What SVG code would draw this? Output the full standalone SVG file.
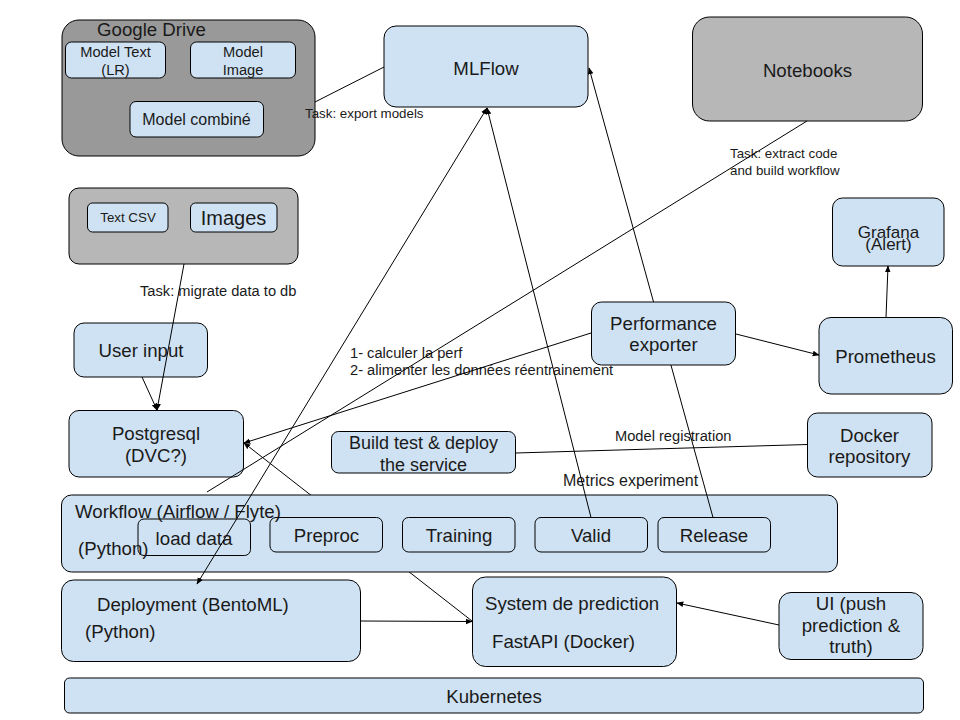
<svg xmlns="http://www.w3.org/2000/svg" width="960" height="720" viewBox="0 0 960 720">
<defs>
<marker id="ah" viewBox="0 0 10 10" refX="9" refY="5" markerWidth="7" markerHeight="7" markerUnits="userSpaceOnUse" orient="auto-start-reverse">
<path d="M0,1 L10,5 L0,9 z" fill="#000"/>
</marker>
<style>
text{font-family:"Liberation Sans",Arial,sans-serif;fill:#1a1a1a}
.b{fill:#cfe2f3;stroke:#000;stroke-width:1}
.g1{fill:#999999;stroke:#000;stroke-width:1}
.g2{fill:#b7b7b7;stroke:#000;stroke-width:1}
.t{font-size:18.67px}
.m{text-anchor:middle}
.s{font-size:13.33px}
.s2{font-size:14.67px}
.c{fill:none;stroke:#000;stroke-width:1}
.a{marker-end:url(#ah)}
</style>
</defs>
<rect width="960" height="720" fill="#fff"/>

<g id="connectors-back">
<line class="c a" x1="472" y1="621" x2="244" y2="443"/>
</g>

<g id="google-drive">
<rect class="g1" x="62" y="20" width="253" height="136" rx="17"/>
<text x="97" y="36" style="font-size:18.67px">Google Drive</text>
<rect class="b" x="65.5" y="42" width="100" height="36" rx="6"/>
<text class="m" x="115.5" y="57" style="font-size:14.67px">Model Text</text>
<text class="m" x="115.5" y="75" style="font-size:14.67px">(LR)</text>
<rect class="b" x="190.5" y="42" width="105" height="36" rx="6"/>
<text class="m" x="243" y="57" style="font-size:14.67px">Model</text>
<text class="m" x="243" y="75" style="font-size:14.67px">Image</text>
<rect class="b" x="130" y="101.5" width="133.5" height="35.5" rx="6"/>
<text class="m" x="196.5" y="125" style="font-size:16px">Model combiné</text>
</g>

<g id="data-sources">
<rect class="g2" x="69" y="188" width="229" height="76" rx="10"/>
<rect class="b" x="87.5" y="203" width="80.5" height="29" rx="5"/>
<text class="m s" x="128" y="222">Text CSV</text>
<rect class="b" x="190.5" y="203" width="86.5" height="29" rx="5"/>
<text class="m" x="233.5" y="225" style="font-size:20px">Images</text>
</g>

<g id="mlflow">
<rect class="b" x="384" y="26" width="204" height="81" rx="12"/>
<text class="m t" x="486" y="75">MLFlow</text>
</g>

<g id="notebooks">
<rect class="g2" x="692.5" y="17" width="230" height="104" rx="17"/>
<text class="m t" x="807.5" y="76.5">Notebooks</text>
</g>

<g id="grafana">
<rect class="b" x="832.5" y="198" width="111.5" height="68" rx="10"/>
<text class="m" x="888.5" y="237.5" style="font-size:17px">Grafana</text>
<text class="m" x="888.5" y="249.5" style="font-size:17px">(Alert)</text>
</g>

<g id="prometheus">
<rect class="b" x="819" y="317.5" width="133.5" height="76.5" rx="12"/>
<text class="m t" x="885.5" y="363">Prometheus</text>
</g>

<g id="user-input">
<rect class="b" x="74" y="323" width="133.5" height="54" rx="10"/>
<text class="m t" x="141" y="357">User input</text>
</g>

<g id="postgresql">
<rect class="b" x="69" y="410.5" width="174.5" height="66.5" rx="10"/>
<text class="m t" x="156" y="440">Postgresql</text>
<text class="m t" x="156" y="462">(DVC?)</text>
</g>

<g id="build-test-deploy">
<rect class="b" x="331.5" y="431.5" width="184" height="41.5" rx="7"/>
<text class="m" x="423.5" y="449" style="font-size:18px">Build test &amp; deploy</text>
<text class="m" x="423.5" y="470.5" style="font-size:18px">the service</text>
</g>

<g id="docker-repository">
<rect class="b" x="807.5" y="413" width="124.5" height="64" rx="10"/>
<text class="m t" x="869.5" y="441.5">Docker</text>
<text class="m t" x="869.5" y="462.5">repository</text>
</g>

<g id="workflow">
<rect class="b" x="61.5" y="495" width="776" height="77" rx="10"/>
<rect class="b" x="138" y="519" width="112.5" height="36.5" rx="6"/>
<text class="m t" x="194" y="545">load data</text>
<rect class="b" x="270" y="517.5" width="112.5" height="34.5" rx="6"/>
<text class="m t" x="326.5" y="542">Preproc</text>
<rect class="b" x="402.5" y="517.5" width="112.5" height="34.5" rx="6"/>
<text class="m t" x="459" y="542">Training</text>
<rect class="b" x="535" y="517.5" width="112.5" height="34.5" rx="6"/>
<text class="m t" x="591" y="542">Valid</text>
<rect class="b" x="658" y="517.5" width="112.5" height="34.5" rx="6"/>
<text class="m t" x="714" y="542">Release</text>
<text class="t" x="75" y="518">Workflow (Airflow / Flyte)</text>
<text class="t" x="78" y="555">(Python)</text>
</g>

<g id="deployment">
<rect class="b" x="61.5" y="580" width="299" height="81.5" rx="12"/>
<text class="t" x="97" y="611">Deployment (BentoML)</text>
<text class="t" x="85" y="638">(Python)</text>
</g>

<g id="system-prediction">
<rect class="b" x="472.5" y="577" width="204" height="89.5" rx="13"/>
<text class="t" x="485" y="610">System de prediction</text>
<text class="t" x="492" y="648">FastAPI (Docker)</text>
</g>

<g id="ui">
<rect class="b" x="779" y="592.5" width="144" height="67" rx="12"/>
<text class="m t" x="851" y="610">UI (push</text>
<text class="m t" x="851" y="631.5">prediction &amp;</text>
<text class="m t" x="851" y="653">truth)</text>
</g>

<g id="kubernetes">
<rect class="b" x="64.5" y="678" width="859" height="35" rx="5"/>
<text class="m t" x="494" y="702.5">Kubernetes</text>
</g>

<g id="labels">
<text class="s" x="305" y="118">Task: export models</text>
<text class="s2" x="140" y="296">Task: migrate data to db</text>
<text class="s" x="730" y="158">Task: extract code</text>
<text class="s" x="730" y="175">and build workflow</text>
<text class="s2" x="350" y="358">1- calculer la perf</text>
<text class="s2" x="350" y="375">2- alimenter les données réentrainement</text>
<text class="s2" x="615" y="441">Model registration</text>
<text x="563" y="486" style="font-size:16px">Metrics experiment</text>
</g>

<g id="connectors">
<line class="c" x1="315" y1="102" x2="384" y2="67"/>
<line class="c" x1="807" y1="121" x2="207" y2="492"/>
<line class="c a" x1="487" y1="108" x2="197" y2="584" style="marker-start:url(#ah)"/>
<line class="c a" x1="591" y1="517.5" x2="487" y2="108"/>
<line class="c a" x1="713" y1="517.5" x2="589" y2="68"/>
<line class="c a" x1="591" y1="333" x2="244" y2="443"/>
<line class="c a" x1="361" y1="621" x2="472" y2="621.5"/>
<line class="c a" x1="184" y1="264" x2="157" y2="410"/>
<line class="c a" x1="142" y1="377" x2="157" y2="410"/>
<line class="c" x1="515.5" y1="453" x2="807.5" y2="444.5"/>
<line class="c a" x1="736" y1="334" x2="819" y2="355"/>
<line class="c a" x1="886" y1="317.5" x2="888" y2="266"/>
<line class="c a" x1="779" y1="625" x2="677" y2="603"/>
</g>

<g id="performance-exporter">
<rect class="b" x="591.5" y="302" width="144" height="63" rx="10"/>
<text class="m t" x="663.5" y="330">Performance</text>
<text class="m t" x="663.5" y="351">exporter</text>
</g>
</svg>
